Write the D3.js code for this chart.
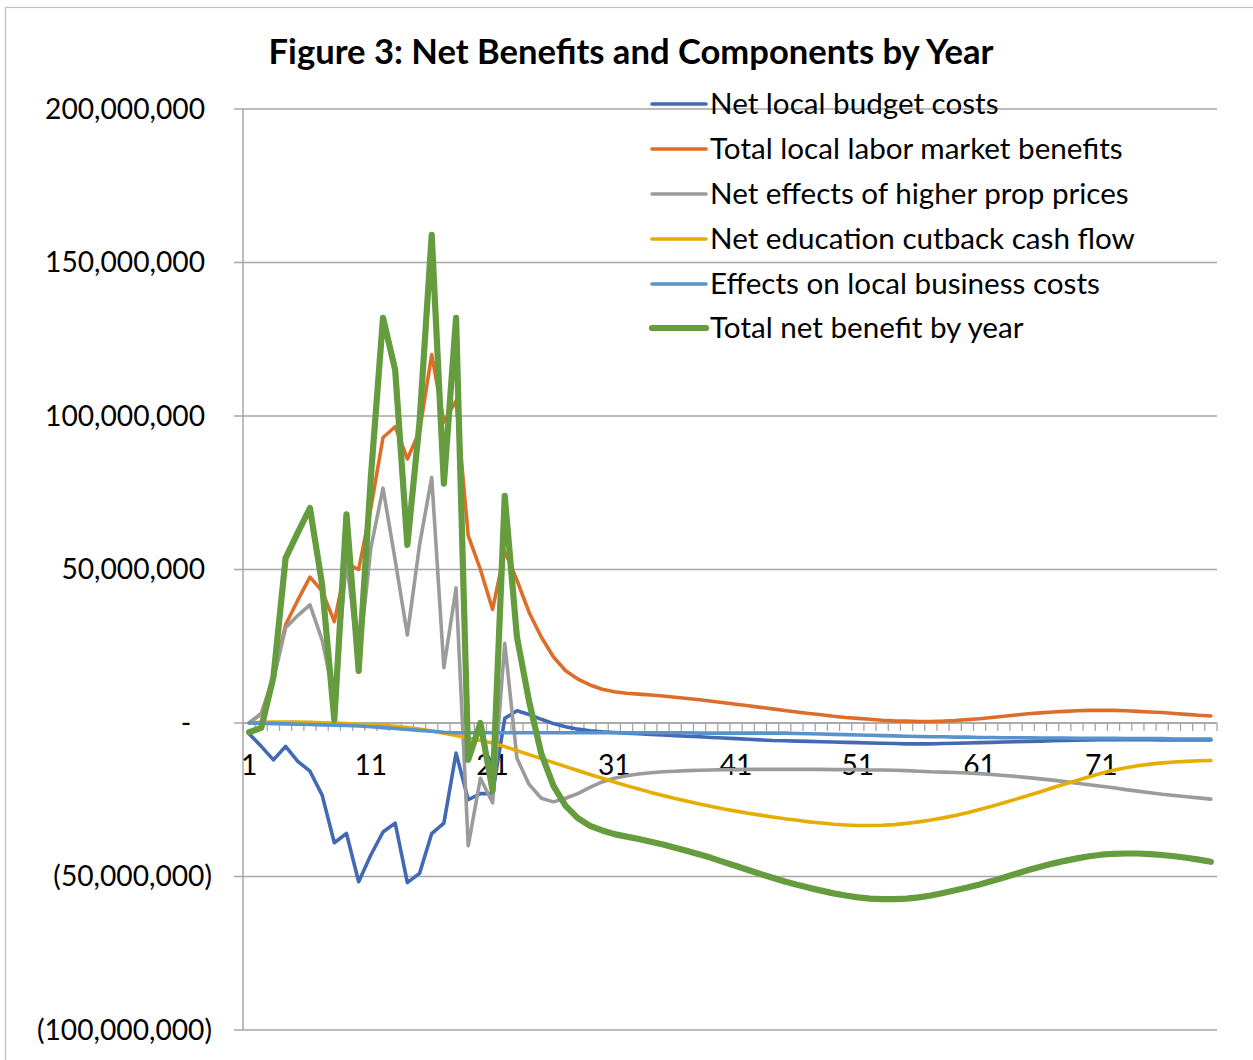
<!DOCTYPE html>
<html><head><meta charset="utf-8">
<script src="https://cdn.jsdelivr.net/npm/d3@7/dist/d3.min.js"></script>
<style>
body{margin:0;background:#fff}
svg{display:block}
text{font-family:Lato,"Open Sans","Liberation Sans",sans-serif;fill:#000}
</style>
</head><body>
<svg id="chart" width="1253" height="1060"></svg>
<script>
// ---- data (values in millions) ----
const years = d3.range(1, 81);
const seriesNames = [
  "Net local budget costs",
  "Total local labor market benefits",
  "Net effects of higher prop prices",
  "Net education cutback cash flow",
  "Effects on local business costs",
  "Total net benefit by year"
];
const budgetCosts = [-3.5,-7.6,-12,-7.6,-12.5,-15.7,-23.5,-39,-36,-51.7,-43,-35.5,-32.6,-52,-49,-36,-32.6,-9.8,-25,-23,-23,1.5,4,2.8,1.2,-0.2,-1.2,-2,-2.5,-2.9,
  -3.1,-3.3,-3.5,-3.7,-3.9,-4.1,-4.3,-4.5,-4.7,-4.9,-5.1,-5.3,-5.5,-5.7,-5.8,-5.9,-6.0,-6.1,-6.2,-6.3,-6.4,-6.5,-6.6,-6.7,-6.8,-6.8,-6.8,-6.7,-6.6,-6.5,
  -6.4,-6.3,-6.2,-6.1,-6.0,-5.9,-5.8,-5.7,-5.6,-5.5,-5.4,-5.4,-5.4,-5.4,-5.4,-5.5,-5.5,-5.5,-5.5,-5.5];
const laborBenefits = [0,3,15,32,40,47.5,43,33,52,50,70,93,96.5,86,95,120,98,105,61,50,37,56,46.5,36,28,21.5,17,14.3,12.4,11,
  10.2,9.7,9.4,9.1,8.8,8.4,8.0,7.6,7.1,6.6,6.1,5.6,5.1,4.6,4.1,3.6,3.1,2.7,2.2,1.8,1.5,1.2,0.9,0.7,0.6,0.5,0.5,0.6,0.8,1.1,
  1.4,1.8,2.2,2.6,3.0,3.3,3.6,3.8,4.0,4.1,4.1,4.1,4.0,3.8,3.6,3.4,3.1,2.8,2.5,2.3];
const propPrices = [0,3,14,31,35,38.5,27,8,53,20,57,76.5,53,28.7,58,80,18,44,-40,-18,-26,26,-11.5,-20,-24.5,-25.7,-24.5,-23,-21,-19.2,
  -18,-17.2,-16.6,-16.2,-15.9,-15.7,-15.5,-15.4,-15.3,-15.2,-15.2,-15.1,-15.1,-15.1,-15.1,-15.1,-15.1,-15.1,-15.2,-15.2,-15.2,-15.3,-15.3,-15.4,-15.5,-15.7,-15.9,-16.0,-16.1,-16.3,
  -16.5,-16.8,-17.1,-17.4,-17.8,-18.2,-18.6,-19.1,-19.6,-20.1,-20.6,-21.1,-21.7,-22.2,-22.7,-23.2,-23.6,-24.0,-24.4,-24.8];
const educationCutback = [0,0.2,0.3,0.3,0.3,0.2,0.1,0,-0.2,-0.4,-0.6,-0.8,-1.1,-1.5,-2,-2.6,-3.3,-4.1,-4.9,-5.7,-6.5,-7.7,-9,-10.3,-11.6,-12.9,-14.2,-15.5,-16.8,-18,
  -19.2,-20.4,-21.5,-22.6,-23.6,-24.6,-25.5,-26.4,-27.2,-28,-28.7,-29.4,-30,-30.6,-31.2,-31.7,-32.2,-32.6,-33,-33.2,-33.4,-33.4,-33.3,-33.1,-32.7,-32.2,-31.6,-30.9,-30.1,-29.2,
  -28.2,-27.1,-26,-24.8,-23.6,-22.4,-21.1,-19.9,-18.7,-17.5,-16.4,-15.4,-14.6,-13.9,-13.4,-13,-12.7,-12.5,-12.3,-12.2];
const businessCosts = [0,-0.1,-0.2,-0.3,-0.4,-0.5,-0.6,-0.7,-0.8,-1.0,-1.2,-1.5,-1.8,-2.1,-2.4,-2.7,-3.0,-3.2,-3.2,-3.2,-3.2,-3.2,-3.2,-3.2,-3.2,-3.2,-3.2,-3.2,-3.2,-3.2,
  -3.2,-3.2,-3.2,-3.2,-3.2,-3.2,-3.2,-3.3,-3.3,-3.3,-3.3,-3.3,-3.3,-3.3,-3.3,-3.4,-3.5,-3.6,-3.7,-3.8,-3.9,-4.0,-4.1,-4.2,-4.3,-4.4,-4.5,-4.5,-4.6,-4.6,
  -4.7,-4.7,-4.8,-4.8,-4.8,-4.9,-4.9,-4.9,-5.0,-5.0,-5.0,-5.0,-5.1,-5.1,-5.1,-5.1,-5.2,-5.2,-5.2,-5.2];
const totalNetBenefit = [-3,-1.6,15,53.7,62,70,45,1,68,17,80,132,115,58,98,159,78,132,-12,0,-22,74,28,7,-10,-20.5,-27,-31,-33.5,-35,
  -36.2,-37,-37.8,-38.7,-39.6,-40.6,-41.7,-42.8,-44,-45.3,-46.6,-47.9,-49.2,-50.4,-51.6,-52.7,-53.7,-54.6,-55.5,-56.2,-56.8,-57.2,-57.4,-57.4,-57.2,-56.8,-56.2,-55.4,-54.5,-53.6,
  -52.6,-51.5,-50.3,-49.1,-47.9,-46.8,-45.8,-44.9,-44.1,-43.4,-42.9,-42.6,-42.5,-42.5,-42.7,-43,-43.4,-43.9,-44.5,-45.2];
const yTickValues = [200, 150, 100, 50, 0, -50, -100];
const xTickLabels = [1, 11, 21, 31, 41, 51, 61, 71];
const titleText = "Figure 3: Net Benefits and Components by Year";

const seriesValues = [budgetCosts, laborBenefits, propPrices, educationCutback, businessCosts, totalNetBenefit];
const colors = ["#4169b4", "#dc6e29", "#9b9b9b", "#e6ad00", "#5893cd", "#649c3e"];
const widths = [3.6, 3.6, 3.6, 3.6, 3.6, 6.2];

// ---- layout ----
const svg = d3.select("#chart");
const plotL = 243, plotR = 1217, plotT = 109, plotB = 1030;
const x = d3.scaleBand().domain(years).range([plotL, plotR]).padding(0);
const y = d3.scaleLinear().domain([-100, 200]).range([plotB, plotT]);
const cx = d => x(d) + x.bandwidth() / 2;
const gridColor = "#a6a6a6";

// chart border (top and left visible)
svg.append("rect").attr("x", 5.5).attr("y", 7.5).attr("width", 1260).attr("height", 1070)
  .attr("fill", "none").attr("stroke", "#bfbfbf").attr("stroke-width", 1.2);

function fit(sel, target) {
  const w = sel.node().getComputedTextLength();
  const fs = parseFloat(sel.attr("font-size"));
  sel.attr("font-size", fs * target / w);
  return fs * target / w;
}

// title
const title = svg.append("text").attr("x", 631).attr("y", 52).attr("dy", "0.35em")
  .attr("text-anchor", "middle").attr("font-weight", "bold").attr("font-size", 30).text(titleText);
fit(title, 725);

// gridlines + y ticks
svg.append("g").selectAll("line").data(yTickValues).join("line")
  .attr("x1", plotL - 9).attr("x2", plotR)
  .attr("y1", d => y(d)).attr("y2", d => y(d))
  .attr("stroke", gridColor).attr("stroke-width", 1.5);

// y axis line
svg.append("line").attr("x1", plotL).attr("x2", plotL).attr("y1", plotT).attr("y2", plotB)
  .attr("stroke", gridColor).attr("stroke-width", 1.5);

// y labels (accounting format)
const fmt = d3.format(",");
const probe = svg.append("text").attr("font-size", 28).text("200,000,000");
const labelSize = fit(probe, 160);
probe.remove();
const yl = svg.append("g").attr("font-size", labelSize);
yTickValues.forEach(v => {
  const t = yl.append("text").attr("y", y(v)).attr("dy", "0.35em");
  if (v > 0) t.attr("x", 205).attr("text-anchor", "end").text(fmt(v * 1e6));
  else if (v < 0) t.attr("x", 212).attr("text-anchor", "end").text("(" + fmt(-v * 1e6) + ")");
  else t.attr("x", 186).attr("text-anchor", "middle").text("-");
});

// x axis at zero
const y0 = y(0);
svg.append("line").attr("x1", plotL).attr("x2", plotR).attr("y1", y0).attr("y2", y0)
  .attr("stroke", gridColor).attr("stroke-width", 1.5);
const boundaries = years.map(d => x(d)).concat([plotR]);
svg.append("g").selectAll("line").data(boundaries).join("line")
  .attr("x1", d => d).attr("x2", d => d).attr("y1", y0).attr("y2", y0 + 8)
  .attr("stroke", gridColor).attr("stroke-width", 1.3);
svg.append("g").attr("font-size", labelSize).selectAll("text").data(xTickLabels).join("text")
  .attr("x", d => cx(d)).attr("y", y0 + 42).attr("dy", "0.35em")
  .attr("text-anchor", "middle").text(d => d);

// series lines
const line = d3.line().x((v, i) => cx(years[i])).y(v => y(v)).curve(d3.curveLinear);
svg.append("g").selectAll("path").data(seriesValues).join("path")
  .attr("d", d => line(d)).attr("fill", "none")
  .attr("stroke", (d, i) => colors[i]).attr("stroke-width", (d, i) => widths[i])
  .attr("stroke-linejoin", "round").attr("stroke-linecap", "round");

// legend
const legendY = [104, 149, 194, 239, 284, 328];
const lg = svg.append("g");
seriesNames.forEach((n, i) => {
  lg.append("line").attr("x1", 652).attr("x2", 706).attr("y1", legendY[i]).attr("y2", legendY[i])
    .attr("stroke", colors[i]).attr("stroke-width", widths[i]).attr("stroke-linecap", "round");
});
const legendTexts = lg.selectAll("text").data(seriesNames).join("text")
  .attr("x", 710).attr("y", (d, i) => legendY[i]).attr("dy", "0.35em")
  .attr("font-size", 26).text(d => d);
let totalW = 0;
legendTexts.each(function () { totalW += this.getComputedTextLength(); });
legendTexts.attr("font-size", 26 * 2249 / totalW);
</script>
</body></html>
